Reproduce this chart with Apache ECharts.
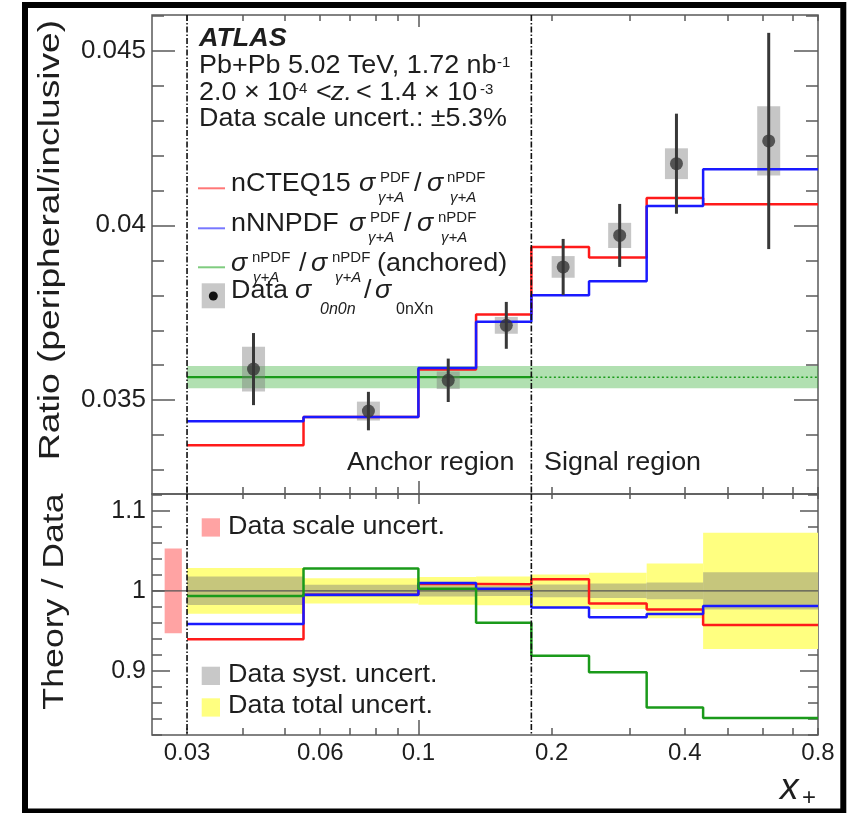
<!DOCTYPE html>
<html>
<head>
<meta charset="utf-8">
<script src="https://cdn.jsdelivr.net/npm/echarts@6/dist/echarts.min.js"></script>
<style>
  html, body { margin: 0; padding: 0; background: #fff; }
  #chart { width: 858px; height: 813px; }
</style>
</head>
<body>
<div id="chart"></div>
<script>
// x+ bin edges (log scale); the anchor/signal boundary sits at 0.18
const binEdges = [0.03, 0.055, 0.1, 0.135, 0.18, 0.243, 0.328, 0.44, 0.8];
const anchorEdge = 0.18;

// Measured ratio sigma_0n0n / sigma_0nXn
const dataX = [0.0424, 0.0771, 0.1168, 0.158, 0.2124, 0.285, 0.383, 0.619];
const dataY = [0.03589, 0.03469, 0.03557, 0.03714, 0.03881, 0.03971, 0.04176, 0.04241];
const dataTotErr = [0.00103, 0.00055, 0.00062, 0.00067, 0.00080, 0.00090, 0.00143, 0.00309];
const dataSystErr = [0.00064, 0.00027, 0.00025, 0.00024, 0.00031, 0.00036, 0.00044, 0.00099];

// Theory predictions per bin
const nCTEQ15 = [0.03371, 0.03452, 0.03588, 0.03745, 0.03938, 0.03908, 0.04078, 0.0406];
const nNNPDF = [0.0344, 0.03452, 0.03592, 0.03724, 0.0380, 0.0384, 0.04055, 0.0416];
const anchoredValue = 0.03566;
const anchoredErr = 0.00032;
const dataScaleUncert = 0.053;

// Axis ticks and labels
const upperTickLabels = [0.035, 0.04, 0.045];
const lowerTickLabels = [0.9, 1, 1.1];
const xTickLabels = [0.03, 0.06, 0.1, 0.2, 0.4, 0.8];
const xMajorTicks = [0.1];

const X_MIN = 0.025, X_MAX = 0.8;
const UP_MIN = 0.03232, UP_MAX = 0.04601;
const LO_MIN = 0.8195, LO_MAX = 1.1213;

const FONT = "'Liberation Sans', Arial, Helvetica, sans-serif";
const INK = '#1e1e1e';
const FRAME = '#5a5a5a';
const WIDE = 1.035; // horizontal stretch of the annotation text

// minor tick positions
const upperMinor = [];
for (let k = 33; k <= 46; k++) if (k % 5 !== 0) upperMinor.push(k / 1000);
const lowerMinor = [];
for (let k = 41; k <= 56; k++) if (k % 5 !== 0) lowerMinor.push(k / 50);
const xMinor = [];
for (let k = 3; k <= 9; k++) xMinor.push(k / 100);
for (let k = 2; k <= 8; k++) xMinor.push(k / 10);

function stepData(vals) {
  return binEdges.map((e, i) => [e, vals[Math.min(i, vals.length - 1)]]);
}

function xAxisDef(grid, position, ticks, len, labels) {
  return {
    type: 'log', gridIndex: grid, position: position, min: X_MIN, max: X_MAX,
    axisLine: { show: false, onZero: false },
    splitLine: { show: false },
    axisTick: { show: true, inside: true, length: len, customValues: ticks,
      lineStyle: { color: FRAME, width: 1.5 } },
    axisLabel: labels ? {
      show: true, customValues: labels, margin: 6, fontSize: 24, fontFamily: FONT, color: INK,
      formatter: v => String(+(+v).toPrecision(3))
    } : { show: false }
  };
}

function yAxisDef(grid, position, min, max, ticks, len, labels, size) {
  return {
    type: 'value', gridIndex: grid, position: position, min: min, max: max,
    axisLine: { show: false, onZero: false },
    splitLine: { show: false },
    axisTick: { show: true, inside: true, length: len, customValues: ticks,
      lineStyle: { color: FRAME, width: 1.5 } },
    axisLabel: labels ? {
      show: true, customValues: labels, margin: 6, fontSize: size, fontFamily: FONT, color: INK,
      formatter: v => String(+(+v).toPrecision(3))
    } : { show: false }
  };
}

const rectItem = fill => (params, api) => {
  const p0 = api.coord([api.value(0), api.value(3)]);
  const p1 = api.coord([api.value(1), api.value(2)]);
  return { type: 'rect', shape: { x: p0[0], y: p0[1], width: p1[0] - p0[0], height: p1[1] - p0[1] },
    style: { fill: fill } };
};

const vLineItem = (params, api) => {
  const a = api.coord([api.value(0), api.value(2)]);
  const b = api.coord([api.value(0), api.value(1)]);
  return { type: 'line', shape: { x1: a[0], y1: a[1], x2: b[0], y2: b[1] },
    style: { stroke: '#111', lineWidth: 1.6, lineDash: [6, 2, 1.5, 2] } };
};

const RED = '#ff1a1a', BLUE = '#1a1aff', GREEN = '#1a9a1a';

const stepLine = (name, vals, color, grid) => ({
  name: name, type: 'line', step: 'end', xAxisIndex: grid * 4, yAxisIndex: grid * 4,
  data: stepData(vals), symbol: 'none', silent: true, z: 5,
  lineStyle: { color: color, width: 2.5 }
});

const relTot = dataTotErr.map((e, i) => e / dataY[i]);
const relSyst = dataSystErr.map((e, i) => e / dataY[i]);
const binBand = rel => rel.map((r, i) => [binEdges[i], binEdges[i + 1], 1 - r, 1 + r]);
const ratioTo = vals => vals.map((v, i) => v / dataY[i]);

// ---- text annotations ----
function t(x, baseline, text, size, o) {
  o = o || {};
  return { type: 'text', x: x, y: baseline - 0.35 * size, scaleX: WIDE, z: 100, silent: true,
    style: { text: text, fontSize: size, fontFamily: FONT,
      fontStyle: o.italic ? 'italic' : 'normal', fontWeight: o.bold ? 'bold' : 'normal',
      fill: o.fill || INK, align: 'left', verticalAlign: 'middle' } };
}
function small(x, center, text, size, o) {
  o = o || {};
  return { type: 'text', x: x, y: center, z: 100, silent: true,
    style: { text: text, fontSize: size, fontFamily: FONT,
      fontStyle: o.italic ? 'italic' : 'normal', fill: INK, align: 'left', verticalAlign: 'middle' } };
}
function box(x, y, w, h, fill) {
  return { type: 'rect', z: 99, silent: true, shape: { x: x, y: y, width: w, height: h }, style: { fill: fill } };
}
function seg(x1, y, x2, color) {
  return { type: 'line', z: 99, silent: true, shape: { x1: x1, y1: y, x2: x2, y2: y },
    style: { stroke: color, lineWidth: 2 } };
}
// sigma with stacked super/subscript
function sigma(x, base, sup, supX, sub, subX) {
  const out = [t(x, base, 'σ', 26, { italic: true })];
  if (sup) out.push(small(supX, base - 15.5, sup, 15));
  if (sub) out.push(small(subX, base + 5, sub, 15, { italic: true }));
  return out;
}

const graphics = [].concat(
  [
    t(199, 48.3, 'ATLAS', 26, { bold: true, italic: true }),
    t(199, 75, 'Pb+Pb 5.02 TeV, 1.72 nb', 26),
    small(497, 62.5, '-1', 15),
    t(199, 101.7, '2.0 × 10', 26),
    small(294, 89, '-4', 15),
    t(316, 101.7, '<', 26),
    t(331, 101.7, 'z.', 26, { italic: true }),
    t(356, 101.7, '< 1.4 × 10', 26),
    small(480, 90, '-3', 15),
    t(199, 128.3, 'Data scale uncert.: ±5.3%', 26),

    seg(198, 188.3, 225, '#ff7777'),
    t(231, 193.3, 'nCTEQ15', 26),
    t(414, 193.3, '/', 26),
    seg(198, 228.3, 225, '#7777ff'),
    t(231, 233.3, 'nNNPDF', 26),
    t(404, 233.3, '/', 26),
    seg(198, 267.3, 225, '#7fcc7f'),
    t(299, 273.3, '/', 26),
    t(377, 273.3, '(anchored)', 26),
    box(201.7, 283.3, 23.3, 25, '#c8c8c8'),
    { type: 'circle', z: 100, silent: true, shape: { cx: 213.3, cy: 296, r: 4.5 }, style: { fill: '#111' } },
    t(231, 300, 'Data', 26),
    t(364, 300, '/', 26),

    t(347, 471.7, 'Anchor region', 26),
    t(544, 471.7, 'Signal region', 26),

    box(201.7, 518.3, 18.3, 18.3, '#ffa3a3'),
    t(228, 536, 'Data scale uncert.', 26),
    box(201.7, 666.7, 18.3, 18.3, '#c8c8c8'),
    t(228, 684, 'Data syst. uncert.', 26),
    box(201.7, 698.3, 18.3, 18.3, '#ffff80'),
    t(228, 715, 'Data total uncert.', 26),

    t(780, 801.7, 'x', 36, { italic: true }),
    small(802, 798, '+', 24),

    { type: 'text', x: 51, y: 240, rotation: Math.PI / 2, scaleX: 1.24, z: 100, silent: true,
      style: { text: 'Ratio (peripheral/inclusive)', fontSize: 30, fontFamily: FONT, fill: INK,
        align: 'center', verticalAlign: 'middle' } },
    { type: 'text', x: 54.5, y: 601.5, rotation: Math.PI / 2, scaleX: 1.19, z: 100, silent: true,
      style: { text: 'Theory / Data', fontSize: 30, fontFamily: FONT, fill: INK,
        align: 'center', verticalAlign: 'middle' } },

    { type: 'rect', z: 101, silent: true, shape: { x: 25, y: 5, width: 818.3, height: 806.5 },
      style: { fill: 'none', stroke: '#000', lineWidth: 6 } }
  ],
  sigma(359, 193.3, 'PDF', 380, 'γ+A', 378),
  sigma(427, 193.3, 'nPDF', 447, 'γ+A', 450),
  sigma(349, 233.3, 'PDF', 370, 'γ+A', 368),
  sigma(417, 233.3, 'nPDF', 438, 'γ+A', 441),
  sigma(231, 273.3, 'nPDF', 252, 'γ+A', 253),
  sigma(311, 273.3, 'nPDF', 332, 'γ+A', 335),
  [t(295, 300, 'σ', 26, { italic: true }), small(320, 310, '0n0n', 16, { italic: true }),
   t(375, 300, 'σ', 26, { italic: true }), small(396, 310, '0nXn', 16)]
);

const option = {
  animation: false,
  backgroundColor: '#fff',
  grid: [
    { left: 152, right: 40, top: 15, height: 479, show: true, borderColor: FRAME, borderWidth: 1.5,
      outerBoundsMode: 'none' },
    { left: 152, right: 40, top: 494, height: 241, show: true, borderColor: FRAME, borderWidth: 1.5,
      outerBoundsMode: 'none' }
  ],
  xAxis: [
    xAxisDef(0, 'bottom', xMinor, 7, null),
    xAxisDef(0, 'bottom', xMajorTicks, 13, null),
    xAxisDef(0, 'top', xMinor, 6, null),
    xAxisDef(0, 'top', xMajorTicks, 12, null),
    xAxisDef(1, 'bottom', xMinor, 7, xTickLabels),
    xAxisDef(1, 'bottom', xMajorTicks, 15, null),
    xAxisDef(1, 'top', xMinor, 5, null),
    xAxisDef(1, 'top', xMajorTicks, 10, null)
  ],
  yAxis: [
    yAxisDef(0, 'left', UP_MIN, UP_MAX, upperTickLabels, 23, upperTickLabels, 26),
    yAxisDef(0, 'left', UP_MIN, UP_MAX, upperMinor, 12, null),
    yAxisDef(0, 'right', UP_MIN, UP_MAX, upperTickLabels, 24, null),
    yAxisDef(0, 'right', UP_MIN, UP_MAX, upperMinor, 12, null),
    yAxisDef(1, 'left', LO_MIN, LO_MAX, lowerTickLabels, 18, lowerTickLabels, 25),
    yAxisDef(1, 'left', LO_MIN, LO_MAX, lowerMinor, 10, null),
    yAxisDef(1, 'right', LO_MIN, LO_MAX, lowerTickLabels, 18, null),
    yAxisDef(1, 'right', LO_MIN, LO_MAX, lowerMinor, 10, null)
  ],
  graphic: { elements: graphics },
  series: [
    // ---------- upper panel ----------
    { type: 'custom', xAxisIndex: 0, yAxisIndex: 0, silent: true, z: 1,
      encode: { x: [0, 1], y: [2, 3] },
      data: [[binEdges[0], X_MAX, anchoredValue - anchoredErr, anchoredValue + anchoredErr]],
      renderItem: rectItem('rgba(40,170,40,0.36)') },
    { type: 'line', xAxisIndex: 0, yAxisIndex: 0, symbol: 'none', silent: true, z: 2,
      data: [[binEdges[0], anchoredValue], [anchorEdge, anchoredValue]],
      lineStyle: { color: GREEN, width: 2.2 } },
    { type: 'line', xAxisIndex: 0, yAxisIndex: 0, symbol: 'none', silent: true, z: 2,
      data: [[anchorEdge, anchoredValue], [X_MAX, anchoredValue]],
      lineStyle: { color: GREEN, width: 1.5, type: [2, 2.5] } },
    { type: 'custom', xAxisIndex: 0, yAxisIndex: 0, silent: true, z: 3,
      encode: { x: 0, y: [1, 2] },
      data: dataX.map((x, i) => [x, dataY[i] - dataSystErr[i], dataY[i] + dataSystErr[i]]),
      renderItem: (params, api) => {
        const a = api.coord([api.value(0), api.value(2)]);
        const b = api.coord([api.value(0), api.value(1)]);
        return { type: 'rect', shape: { x: a[0] - 11.5, y: a[1], width: 23, height: b[1] - a[1] },
          style: { fill: 'rgba(120,120,120,0.42)' } };
      } },
    stepLine('nCTEQ15', nCTEQ15, RED, 0),
    stepLine('nNNPDF', nNNPDF, BLUE, 0),
    { type: 'custom', xAxisIndex: 0, yAxisIndex: 0, silent: true, z: 6,
      encode: { x: 0, y: [1, 2] },
      data: dataX.map((x, i) => [x, dataY[i] - dataTotErr[i], dataY[i] + dataTotErr[i]]),
      renderItem: (params, api) => {
        const a = api.coord([api.value(0), api.value(2)]);
        const b = api.coord([api.value(0), api.value(1)]);
        return { type: 'line', shape: { x1: a[0], y1: a[1], x2: b[0], y2: b[1] },
          style: { stroke: '#383838', lineWidth: 3 } };
      } },
    { type: 'scatter', xAxisIndex: 0, yAxisIndex: 0, silent: true, z: 7,
      data: dataX.map((x, i) => [x, dataY[i]]), symbol: 'circle', symbolSize: 13,
      itemStyle: { color: '#363636' } },
    { type: 'custom', xAxisIndex: 0, yAxisIndex: 0, silent: true, z: 8,
      encode: { x: 0, y: [1, 2] },
      data: [[binEdges[0], UP_MIN, UP_MAX], [anchorEdge, UP_MIN, UP_MAX]],
      renderItem: vLineItem },

    // ---------- lower panel ----------
    { type: 'custom', xAxisIndex: 4, yAxisIndex: 4, silent: true, z: 1,
      encode: { x: [0, 1], y: [2, 3] }, data: binBand(relTot),
      renderItem: rectItem('#ffff80') },
    { type: 'custom', xAxisIndex: 4, yAxisIndex: 4, silent: true, z: 2,
      encode: { x: [0, 1], y: [2, 3] }, data: binBand(relSyst),
      renderItem: rectItem('rgba(120,120,120,0.42)') },
    { type: 'custom', xAxisIndex: 4, yAxisIndex: 4, silent: true, z: 2,
      encode: { x: [0, 1], y: [2, 3] },
      data: [[0.0267, 0.0292, 1 - dataScaleUncert, 1 + dataScaleUncert]],
      renderItem: rectItem('#ffa3a3') },
    { type: 'line', xAxisIndex: 4, yAxisIndex: 4, symbol: 'none', silent: true, z: 3,
      data: [[X_MIN, 1], [X_MAX, 1]], lineStyle: { color: '#555', width: 1.3 } },
    stepLine('nCTEQ15 / data', ratioTo(nCTEQ15), RED, 1),
    stepLine('nNNPDF / data', ratioTo(nNNPDF), BLUE, 1),
    stepLine('anchored / data', ratioTo(dataY.map(() => anchoredValue)), GREEN, 1),
    { type: 'custom', xAxisIndex: 4, yAxisIndex: 4, silent: true, z: 8,
      encode: { x: 0, y: [1, 2] },
      data: [[binEdges[0], LO_MIN, LO_MAX], [anchorEdge, LO_MIN, LO_MAX]],
      renderItem: vLineItem }
  ]
};

const chart = echarts.init(document.getElementById('chart'));
chart.setOption(option);
</script>
</body>
</html>
